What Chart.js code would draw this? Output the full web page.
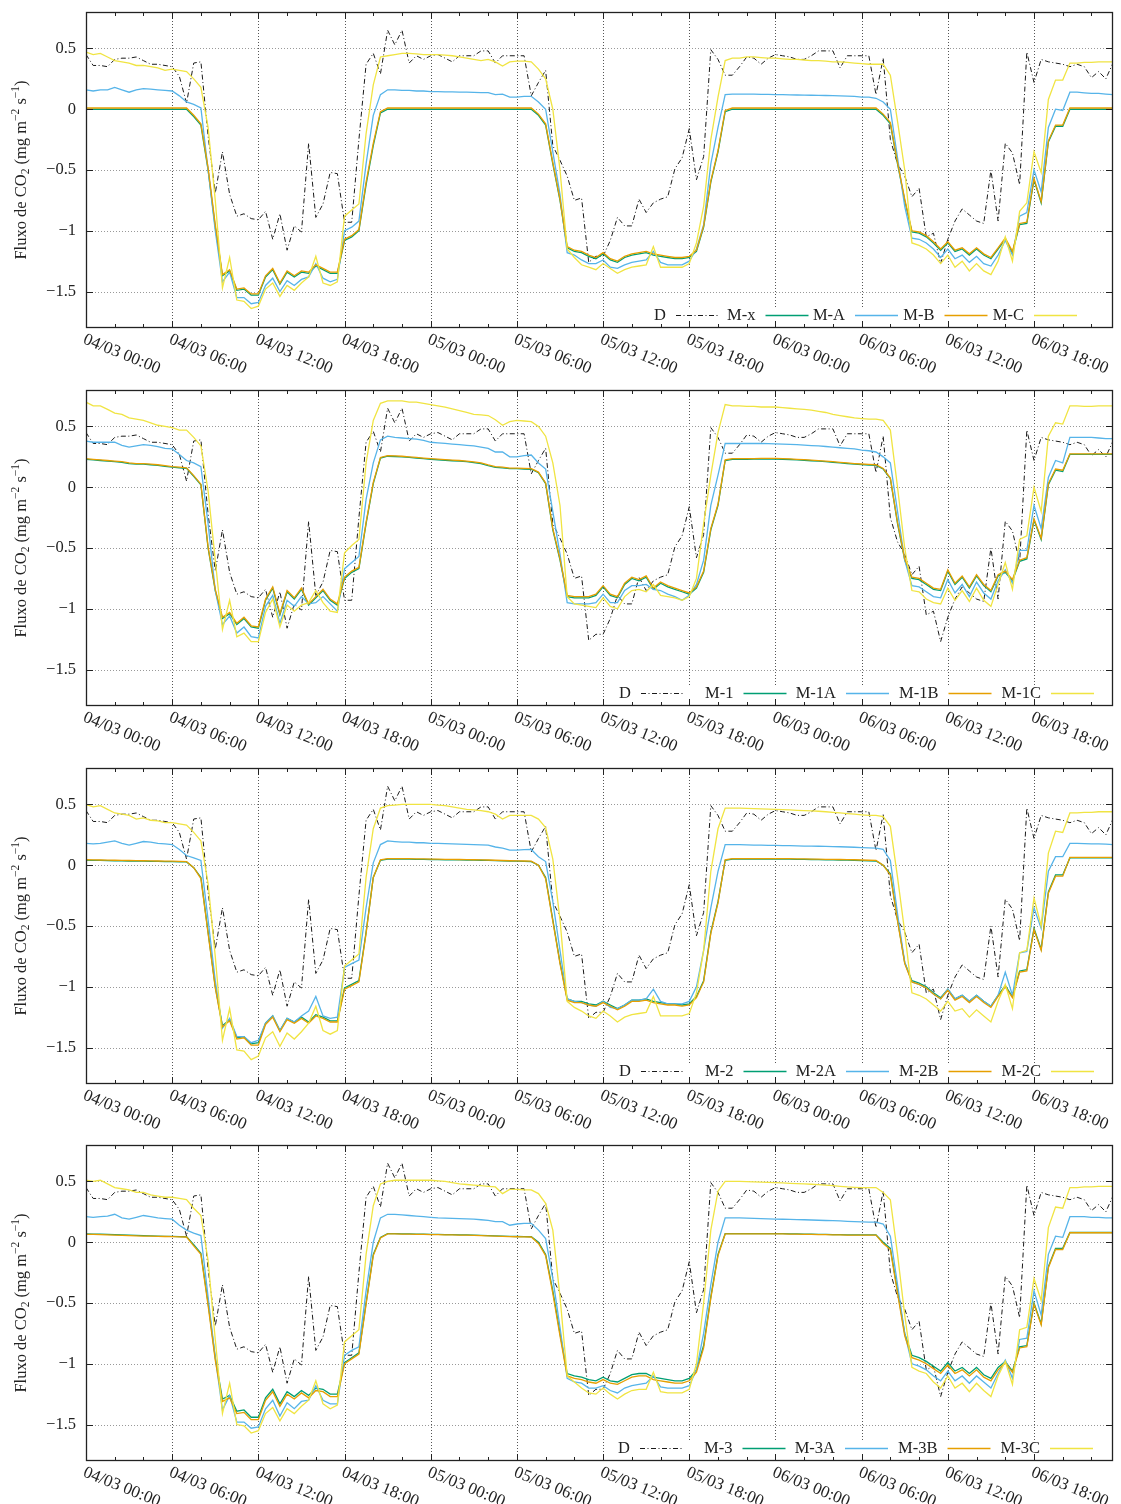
<!DOCTYPE html>
<html>
<head>
<meta charset="utf-8">
<script src="https://cdn.jsdelivr.net/npm/chart.js@4.4.1/dist/chart.umd.min.js"></script>
<style>
  html, body { margin: 0; padding: 0; background: #fff; overflow: hidden; }
  .panel { position: absolute; left: 0; width: 1121px; height: 378px; }
</style>
</head>
<body>
<div class="panel" style="top:0px"><canvas id="c0" width="1121" height="378"></canvas></div>
<div class="panel" style="top:378px"><canvas id="c1" width="1121" height="378"></canvas></div>
<div class="panel" style="top:756px"><canvas id="c2" width="1121" height="378"></canvas></div>
<div class="panel" style="top:1133px"><canvas id="c3" width="1121" height="378"></canvas></div>
<script>
// half-hourly samples, 04/03 00:00 .. 06/03 23:30 (hours since start)
const hours = Array.from({ length: 144 }, (_, i) => i / 2);

const xTickHours = [0, 6, 12, 18, 24, 30, 36, 42, 48, 54, 60, 66];
const xTickLabels = ['04/03 00:00', '04/03 06:00', '04/03 12:00', '04/03 18:00',
  '05/03 00:00', '05/03 06:00', '05/03 12:00', '05/03 18:00',
  '06/03 00:00', '06/03 06:00', '06/03 12:00', '06/03 18:00'];
const yTicks = [-1.5, -1, -0.5, 0, 0.5];
const yTickLabels = ['\u22121.5', '\u22121', '\u22120.5', '0', '0.5'];

// measured flux (D), same in every panel
const fluxD = [
  0.45, 0.36, 0.36, 0.35, 0.41, 0.42, 0.42, 0.43, 0.40, 0.37, 0.37, 0.36,
  0.35, 0.27, 0.05, 0.38, 0.39, -0.22, -0.69, -0.35, -0.70, -0.88, -0.86, -0.90,
  -0.91, -0.84, -1.07, -0.86, -1.16, -0.96, -1.01, -0.28, -0.89, -0.78, -0.52, -0.53,
  -0.93, -0.93, -0.25, 0.37, 0.46, 0.29, 0.65, 0.53, 0.65, 0.38, 0.44, 0.41,
  0.44, 0.45, 0.42, 0.39, 0.44, 0.44, 0.44, 0.48, 0.48, 0.38, 0.44, 0.44,
  0.44, 0.44, 0.11, 0.22, 0.32, -0.30, -0.42, -0.55, -0.75, -0.73, -1.26, -1.21,
  -1.21, -1.08, -0.89, -0.96, -0.96, -0.74, -0.85, -0.77, -0.74, -0.72, -0.49, -0.40,
  -0.16, -0.58, -0.39, 0.49, 0.41, 0.28, 0.28, 0.35, 0.43, 0.42, 0.37, 0.42,
  0.45, 0.44, 0.43, 0.41, 0.41, 0.44, 0.48, 0.48, 0.48, 0.34, 0.44, 0.44,
  0.44, 0.44, 0.12, 0.42, -0.25, -0.45, -0.55, -0.72, -0.65, -1.05, -1.02, -1.27,
  -1.07, -0.92, -0.82, -0.87, -0.92, -0.94, -0.50, -0.92, -0.28, -0.36, -0.62, 0.47,
  0.22, 0.41, 0.39, 0.38, 0.37, 0.35, 0.37, 0.35, 0.26, 0.31, 0.25, 0.38
];

// panel 1
const mX = [
  0, 0, 0, 0, 0, 0, 0, 0, 0, 0, 0, 0,
  0, 0, 0, -0.06, -0.13, -0.50, -0.97, -1.37, -1.33, -1.49, -1.48, -1.53,
  -1.53, -1.38, -1.32, -1.44, -1.34, -1.38, -1.34, -1.35, -1.29, -1.32, -1.35, -1.35,
  -1.08, -1.05, -1.00, -0.62, -0.30, -0.03, 0, 0, 0, 0, 0, 0,
  0, 0, 0, 0, 0, 0, 0, 0, 0, 0, 0, 0,
  0, 0, 0, -0.05, -0.13, -0.45, -0.75, -1.14, -1.17, -1.18, -1.21, -1.23,
  -1.19, -1.24, -1.26, -1.22, -1.20, -1.19, -1.18, -1.20, -1.21, -1.22, -1.23, -1.23,
  -1.22, -1.17, -0.97, -0.60, -0.35, -0.02, 0, 0, 0, 0, 0, 0,
  0, 0, 0, 0, 0, 0, 0, 0, 0, 0, 0, 0,
  0, 0, 0, -0.05, -0.12, -0.45, -0.75, -1.01, -1.02, -1.05, -1.10, -1.16,
  -1.10, -1.17, -1.15, -1.20, -1.15, -1.20, -1.23, -1.15, -1.07, -1.18, -0.95, -0.94,
  -0.58, -0.77, -0.27, -0.14, -0.14, 0, 0, 0, 0, 0, 0, 0
];
const mA = [
  0.16, 0.15, 0.16, 0.16, 0.18, 0.16, 0.14, 0.16, 0.17, 0.165, 0.16, 0.155,
  0.15, 0.11, 0.06, 0.04, 0.01, -0.50, -1.00, -1.42, -1.34, -1.55, -1.55, -1.60,
  -1.59, -1.45, -1.39, -1.50, -1.41, -1.45, -1.40, -1.38, -1.27, -1.39, -1.42, -1.40,
  -1.00, -0.97, -0.92, -0.45, -0.05, 0.12, 0.16, 0.16, 0.155, 0.155, 0.15, 0.15,
  0.145, 0.145, 0.143, 0.142, 0.14, 0.14, 0.138, 0.137, 0.136, 0.12, 0.125, 0.10,
  0.10, 0.105, 0.106, 0.06, 0.0, -0.35, -0.70, -1.18, -1.20, -1.24, -1.27, -1.27,
  -1.24, -1.30, -1.31, -1.28, -1.26, -1.25, -1.24, -1.17, -1.26, -1.28, -1.28, -1.28,
  -1.25, -1.15, -0.95, -0.45, -0.15, 0.12, 0.125, 0.125, 0.125, 0.124, 0.123, 0.122,
  0.12, 0.12, 0.118, 0.117, 0.116, 0.115, 0.114, 0.113, 0.112, 0.11, 0.108, 0.105,
  0.10, 0.10, 0.09, 0.06, 0.0, -0.40, -0.80, -1.06, -1.07, -1.10, -1.15, -1.22,
  -1.15, -1.23, -1.20, -1.26, -1.21, -1.27, -1.29, -1.20, -1.08, -1.20, -0.88, -0.85,
  -0.50, -0.68, -0.15, 0.0, -0.01, 0.14, 0.14, 0.135, 0.13, 0.13, 0.125, 0.12
];
const mB = [
  0.01, 0.01, 0.01, 0.01, 0.01, 0.01, 0.01, 0.01, 0.01, 0.01, 0.01, 0.01,
  0.01, 0.01, 0.01, -0.05, -0.12, -0.48, -0.95, -1.36, -1.32, -1.48, -1.47, -1.52,
  -1.52, -1.37, -1.31, -1.43, -1.33, -1.37, -1.33, -1.34, -1.28, -1.31, -1.34, -1.34,
  -1.07, -1.04, -0.99, -0.60, -0.28, -0.02, 0.01, 0.01, 0.01, 0.01, 0.01, 0.01,
  0.01, 0.01, 0.01, 0.01, 0.01, 0.01, 0.01, 0.01, 0.01, 0.01, 0.01, 0.01,
  0.01, 0.01, 0.01, -0.04, -0.12, -0.44, -0.74, -1.13, -1.16, -1.17, -1.20, -1.22,
  -1.18, -1.23, -1.25, -1.21, -1.19, -1.18, -1.17, -1.19, -1.20, -1.21, -1.22, -1.22,
  -1.21, -1.16, -0.96, -0.59, -0.34, -0.01, 0.01, 0.01, 0.01, 0.01, 0.01, 0.01,
  0.01, 0.01, 0.01, 0.01, 0.01, 0.01, 0.01, 0.01, 0.01, 0.01, 0.01, 0.01,
  0.01, 0.01, 0.01, -0.04, -0.11, -0.44, -0.74, -1.00, -1.01, -1.04, -1.09, -1.15,
  -1.09, -1.16, -1.14, -1.19, -1.14, -1.19, -1.22, -1.14, -1.06, -1.17, -0.94, -0.93,
  -0.57, -0.76, -0.26, -0.13, -0.13, 0.01, 0.01, 0.01, 0.01, 0.01, 0.01, 0.01
];
const mC = [
  0.47, 0.45, 0.46, 0.43, 0.40, 0.39, 0.38, 0.36, 0.36, 0.35, 0.34, 0.32,
  0.33, 0.32, 0.31, 0.25, 0.18, -0.15, -0.75, -1.47, -1.22, -1.57, -1.58, -1.64,
  -1.62, -1.48, -1.43, -1.54, -1.45, -1.49, -1.43, -1.38, -1.21, -1.43, -1.45, -1.42,
  -0.88, -0.83, -0.78, -0.20, 0.20, 0.43, 0.44, 0.45, 0.46, 0.46, 0.455, 0.45,
  0.45, 0.45, 0.445, 0.44, 0.43, 0.42, 0.41, 0.40, 0.41, 0.39, 0.355, 0.39,
  0.395, 0.395, 0.39, 0.33, 0.25, 0.0, -0.50, -1.15, -1.22, -1.28, -1.30, -1.32,
  -1.27, -1.31, -1.35, -1.32, -1.30, -1.29, -1.28, -1.13, -1.30, -1.30, -1.30, -1.30,
  -1.27, -1.10, -0.80, -0.25, 0.10, 0.40, 0.42, 0.42, 0.43, 0.43, 0.425, 0.42,
  0.42, 0.415, 0.41, 0.41, 0.405, 0.40, 0.40, 0.395, 0.39, 0.39, 0.385, 0.38,
  0.375, 0.37, 0.37, 0.37, 0.28, -0.10, -0.50, -1.10, -1.12, -1.15, -1.20, -1.27,
  -1.20, -1.30, -1.25, -1.33, -1.27, -1.33, -1.36, -1.25, -1.05, -1.25, -0.84, -0.77,
  -0.35, -0.52, 0.08, 0.24, 0.24, 0.38, 0.38, 0.385, 0.385, 0.39, 0.39, 0.39
];

// panel 2
const m1 = [
  0.23, 0.225, 0.22, 0.215, 0.21, 0.205, 0.195, 0.19, 0.19, 0.185, 0.18, 0.172,
  0.165, 0.16, 0.155, 0.09, 0.02, -0.50, -0.85, -1.08, -1.04, -1.13, -1.08, -1.15,
  -1.16, -0.93, -0.83, -1.05, -0.86, -0.92, -0.84, -0.97, -0.91, -0.85, -0.93, -0.97,
  -0.75, -0.70, -0.67, -0.30, 0.03, 0.24, 0.255, 0.253, 0.25, 0.245, 0.24, 0.235,
  0.23, 0.226, 0.222, 0.218, 0.215, 0.21, 0.203, 0.195, 0.178, 0.164, 0.16, 0.153,
  0.153, 0.15, 0.148, 0.12, 0.03, -0.35, -0.60, -0.90, -0.91, -0.91, -0.91, -0.89,
  -0.82, -0.89, -0.91, -0.80, -0.75, -0.77, -0.74, -0.84, -0.79, -0.82, -0.84, -0.86,
  -0.88, -0.83, -0.70, -0.35, -0.15, 0.22, 0.23, 0.23, 0.23, 0.231, 0.232, 0.232,
  0.232, 0.23, 0.228, 0.225, 0.222, 0.218, 0.214, 0.21, 0.205, 0.2, 0.195, 0.19,
  0.186, 0.183, 0.18, 0.15, 0.07, -0.30, -0.60, -0.75, -0.76, -0.80, -0.84, -0.85,
  -0.69, -0.80, -0.74, -0.83, -0.73, -0.81, -0.86, -0.73, -0.70, -0.77, -0.61, -0.59,
  -0.27, -0.43, 0.02, 0.14, 0.13, 0.27, 0.27, 0.27, 0.27, 0.27, 0.27, 0.27
];
const m1A = [
  0.38, 0.37, 0.37, 0.37, 0.37, 0.345, 0.33, 0.34, 0.35, 0.345, 0.335, 0.32,
  0.315, 0.27, 0.22, 0.20, 0.17, -0.30, -0.85, -1.13, -1.06, -1.20, -1.15, -1.23,
  -1.24, -0.98, -0.89, -1.12, -0.93, -0.98, -0.90, -0.96, -0.95, -0.90, -0.96, -1.02,
  -0.67, -0.62, -0.57, -0.10, 0.20, 0.39, 0.42, 0.41, 0.405, 0.40, 0.395, 0.385,
  0.37, 0.365, 0.36, 0.355, 0.35, 0.345, 0.34, 0.33, 0.32, 0.29, 0.29, 0.25,
  0.25, 0.26, 0.265, 0.20, 0.15, -0.20, -0.55, -0.95, -0.96, -0.96, -0.96, -0.95,
  -0.88, -0.95, -0.95, -0.85, -0.81, -0.81, -0.80, -0.84, -0.85, -0.88, -0.90, -0.93,
  -0.89, -0.80, -0.60, -0.15, 0.10, 0.36, 0.36, 0.36, 0.36, 0.36, 0.36, 0.358,
  0.357, 0.355, 0.353, 0.35, 0.347, 0.343, 0.34, 0.335, 0.33, 0.325, 0.32, 0.315,
  0.305, 0.30, 0.29, 0.25, 0.20, -0.20, -0.60, -0.81, -0.82, -0.86, -0.90, -0.91,
  -0.76, -0.87, -0.80, -0.90, -0.78, -0.87, -0.92, -0.77, -0.68, -0.79, -0.52, -0.52,
  -0.15, -0.34, 0.08, 0.22, 0.20, 0.41, 0.41, 0.41, 0.41, 0.405, 0.40, 0.40
];
const m1B = [
  0.235, 0.23, 0.225, 0.22, 0.215, 0.21, 0.2, 0.195, 0.195, 0.19, 0.185, 0.178,
  0.17, 0.165, 0.16, 0.095, 0.025, -0.49, -0.84, -1.07, -1.03, -1.12, -1.07, -1.14,
  -1.15, -0.92, -0.82, -1.04, -0.85, -0.91, -0.83, -0.96, -0.90, -0.84, -0.92, -0.96,
  -0.74, -0.69, -0.66, -0.29, 0.04, 0.245, 0.26, 0.258, 0.255, 0.25, 0.245, 0.24,
  0.235, 0.231, 0.227, 0.223, 0.22, 0.215, 0.208, 0.2, 0.183, 0.17, 0.165, 0.158,
  0.158, 0.155, 0.153, 0.125, 0.035, -0.34, -0.59, -0.89, -0.90, -0.90, -0.90, -0.88,
  -0.81, -0.88, -0.90, -0.79, -0.74, -0.76, -0.73, -0.83, -0.78, -0.81, -0.83, -0.85,
  -0.87, -0.82, -0.69, -0.34, -0.14, 0.225, 0.235, 0.235, 0.235, 0.236, 0.237, 0.237,
  0.237, 0.235, 0.233, 0.23, 0.227, 0.223, 0.219, 0.215, 0.21, 0.205, 0.2, 0.195,
  0.191, 0.188, 0.185, 0.155, 0.075, -0.29, -0.59, -0.74, -0.75, -0.79, -0.83, -0.84,
  -0.68, -0.79, -0.73, -0.82, -0.72, -0.80, -0.85, -0.72, -0.69, -0.76, -0.60, -0.58,
  -0.26, -0.42, 0.03, 0.15, 0.14, 0.275, 0.275, 0.275, 0.275, 0.275, 0.275, 0.275
];
const m1C = [
  0.70, 0.67, 0.67, 0.64, 0.61, 0.60, 0.57, 0.56, 0.55, 0.53, 0.51, 0.50,
  0.49, 0.47, 0.47, 0.41, 0.34, -0.03, -0.60, -1.17, -0.93, -1.23, -1.20, -1.27,
  -1.27, -1.03, -0.92, -1.15, -0.97, -1.02, -0.97, -0.95, -0.85, -0.95, -1.02, -1.03,
  -0.54, -0.48, -0.43, 0.20, 0.55, 0.69, 0.71, 0.71, 0.71, 0.70, 0.70, 0.69,
  0.68, 0.67, 0.66, 0.645, 0.63, 0.615, 0.60, 0.595, 0.59, 0.555, 0.51, 0.54,
  0.55, 0.545, 0.54, 0.50, 0.42, 0.20, -0.15, -0.90, -0.96, -0.97, -0.98, -0.99,
  -0.91, -0.98, -1.00, -0.90, -0.85, -0.84, -0.86, -0.80, -0.89, -0.90, -0.91, -0.93,
  -0.90, -0.75, -0.30, 0.10, 0.45, 0.68, 0.67, 0.67, 0.665, 0.665, 0.66, 0.66,
  0.66, 0.655, 0.65, 0.645, 0.64, 0.635, 0.625, 0.615, 0.60, 0.59, 0.58, 0.57,
  0.565, 0.56, 0.56, 0.55, 0.47, 0.0, -0.50, -0.85, -0.86, -0.92, -0.95, -0.96,
  -0.83, -0.93, -0.85, -0.94, -0.83, -0.93, -0.98, -0.80, -0.62, -0.84, -0.43, -0.40,
  0.0, -0.20, 0.42, 0.53, 0.52, 0.67, 0.67, 0.665, 0.665, 0.67, 0.67, 0.67
];

// panel 3
const m2 = [
  0.04, 0.04, 0.04, 0.038, 0.037, 0.036, 0.035, 0.034, 0.033, 0.032, 0.031, 0.03,
  0.03, 0.028, 0.027, -0.02, -0.10, -0.55, -1.00, -1.32, -1.27, -1.42, -1.41, -1.47,
  -1.46, -1.30, -1.24, -1.36, -1.26, -1.29, -1.25, -1.29, -1.23, -1.25, -1.28, -1.28,
  -1.01, -0.98, -0.95, -0.55, -0.10, 0.04, 0.05, 0.05, 0.05, 0.05, 0.048, 0.048,
  0.047, 0.046, 0.045, 0.045, 0.044, 0.043, 0.042, 0.041, 0.04, 0.038, 0.036, 0.034,
  0.033, 0.032, 0.03, 0.0, -0.10, -0.45, -0.80, -1.10, -1.12, -1.12, -1.14, -1.15,
  -1.12, -1.15, -1.18, -1.15, -1.11, -1.11, -1.10, -1.12, -1.13, -1.14, -1.14, -1.15,
  -1.14, -1.08, -0.95, -0.55, -0.30, 0.04, 0.05, 0.05, 0.05, 0.05, 0.05, 0.05,
  0.05, 0.05, 0.05, 0.049, 0.048, 0.047, 0.046, 0.045, 0.044, 0.043, 0.042, 0.04,
  0.038, 0.036, 0.035, 0.0, -0.07, -0.45, -0.80, -0.95, -0.97, -1.00, -1.05, -1.09,
  -1.02, -1.10, -1.07, -1.12, -1.07, -1.12, -1.16, -1.07, -0.99, -1.08, -0.87, -0.86,
  -0.52, -0.69, -0.22, -0.08, -0.08, 0.06, 0.06, 0.06, 0.06, 0.06, 0.06, 0.06
];
const m2A = [
  0.18, 0.175, 0.18, 0.19, 0.20, 0.18, 0.165, 0.18, 0.195, 0.19, 0.18, 0.175,
  0.17, 0.13, 0.08, 0.06, 0.04, -0.45, -0.95, -1.34, -1.26, -1.41, -1.41, -1.46,
  -1.44, -1.30, -1.24, -1.36, -1.26, -1.29, -1.24, -1.20, -1.08, -1.24, -1.26, -1.25,
  -0.84, -0.81, -0.78, -0.35, 0.02, 0.17, 0.20, 0.195, 0.19, 0.19, 0.185, 0.185,
  0.18, 0.18, 0.178, 0.176, 0.174, 0.172, 0.17, 0.168, 0.165, 0.15, 0.14, 0.125,
  0.125, 0.128, 0.13, 0.07, 0.03, -0.30, -0.70, -1.10, -1.12, -1.13, -1.15, -1.16,
  -1.12, -1.17, -1.18, -1.15, -1.11, -1.11, -1.10, -1.02, -1.12, -1.14, -1.14, -1.14,
  -1.12, -1.00, -0.70, -0.35, -0.05, 0.17, 0.17, 0.17, 0.168, 0.166, 0.165, 0.164,
  0.163, 0.162, 0.161, 0.16, 0.158, 0.157, 0.156, 0.155, 0.153, 0.152, 0.15, 0.148,
  0.145, 0.142, 0.14, 0.13, 0.04, -0.40, -0.80, -0.96, -0.98, -1.01, -1.06, -1.10,
  -1.02, -1.10, -1.07, -1.12, -1.07, -1.12, -1.16, -1.07, -0.88, -1.07, -0.72, -0.71,
  -0.35, -0.52, -0.05, 0.07, 0.07, 0.18, 0.18, 0.178, 0.176, 0.175, 0.173, 0.17
];
const m2B = [
  0.045, 0.044, 0.043, 0.042, 0.041, 0.04, 0.039, 0.038, 0.037, 0.036, 0.035, 0.034,
  0.033, 0.032, 0.03, -0.02, -0.11, -0.56, -1.01, -1.33, -1.28, -1.43, -1.42, -1.48,
  -1.48, -1.31, -1.25, -1.37, -1.27, -1.30, -1.26, -1.30, -1.24, -1.26, -1.29, -1.29,
  -1.02, -0.99, -0.96, -0.56, -0.10, 0.045, 0.055, 0.055, 0.055, 0.054, 0.053, 0.052,
  0.051, 0.05, 0.049, 0.048, 0.047, 0.046, 0.045, 0.044, 0.043, 0.041, 0.039, 0.037,
  0.036, 0.035, 0.034, 0.0, -0.11, -0.46, -0.81, -1.11, -1.13, -1.13, -1.15, -1.16,
  -1.13, -1.16, -1.19, -1.16, -1.12, -1.12, -1.11, -1.13, -1.14, -1.15, -1.15, -1.16,
  -1.15, -1.09, -0.96, -0.56, -0.31, 0.045, 0.055, 0.055, 0.055, 0.055, 0.055, 0.055,
  0.055, 0.055, 0.054, 0.053, 0.052, 0.051, 0.05, 0.049, 0.048, 0.047, 0.046, 0.045,
  0.043, 0.041, 0.04, 0.0, -0.08, -0.46, -0.81, -0.96, -0.98, -1.01, -1.06, -1.10,
  -1.03, -1.11, -1.08, -1.13, -1.08, -1.13, -1.17, -1.08, -1.00, -1.09, -0.88, -0.87,
  -0.53, -0.70, -0.23, -0.09, -0.09, 0.065, 0.065, 0.065, 0.065, 0.065, 0.065, 0.065
];
const m2C = [
  0.50, 0.48, 0.49, 0.46, 0.43, 0.42, 0.41, 0.38, 0.39, 0.37, 0.365, 0.35,
  0.35, 0.34, 0.33, 0.27, 0.20, -0.15, -0.75, -1.44, -1.18, -1.52, -1.53, -1.60,
  -1.57, -1.42, -1.37, -1.49, -1.38, -1.43, -1.37, -1.30, -1.16, -1.36, -1.39, -1.36,
  -0.83, -0.78, -0.73, -0.10, 0.30, 0.47, 0.49, 0.495, 0.50, 0.50, 0.50, 0.50,
  0.50, 0.495, 0.49, 0.48, 0.47, 0.46, 0.455, 0.45, 0.44, 0.42, 0.38, 0.41,
  0.41, 0.41, 0.41, 0.38, 0.31, 0.05, -0.45, -1.12, -1.17, -1.20, -1.24, -1.26,
  -1.20, -1.24, -1.29, -1.25, -1.23, -1.22, -1.21, -1.08, -1.24, -1.24, -1.24, -1.24,
  -1.22, -1.05, -0.70, -0.05, 0.30, 0.47, 0.47, 0.47, 0.468, 0.466, 0.464, 0.462,
  0.46, 0.458, 0.455, 0.452, 0.45, 0.447, 0.444, 0.44, 0.435, 0.43, 0.425, 0.42,
  0.415, 0.41, 0.41, 0.40, 0.32, -0.10, -0.55, -1.05, -1.07, -1.10, -1.15, -1.20,
  -1.12, -1.20, -1.18, -1.25, -1.19, -1.24, -1.29, -1.12, -0.98, -1.18, -0.72, -0.70,
  -0.27, -0.50, 0.10, 0.28, 0.27, 0.43, 0.43, 0.435, 0.435, 0.44, 0.44, 0.44
];

// panel 4
const m3 = [
  0.068, 0.067, 0.066, 0.064, 0.062, 0.06, 0.058, 0.056, 0.054, 0.052, 0.05, 0.049,
  0.048, 0.046, 0.045, -0.02, -0.09, -0.50, -0.95, -1.29, -1.26, -1.39, -1.38, -1.44,
  -1.44, -1.28, -1.21, -1.33, -1.23, -1.27, -1.22, -1.26, -1.20, -1.21, -1.25, -1.25,
  -0.99, -0.95, -0.91, -0.50, -0.10, 0.04, 0.07, 0.07, 0.069, 0.068, 0.067, 0.066,
  0.065, 0.064, 0.063, 0.062, 0.061, 0.06, 0.058, 0.056, 0.054, 0.052, 0.05, 0.048,
  0.047, 0.046, 0.045, 0.0, -0.10, -0.40, -0.75, -1.08, -1.10, -1.11, -1.13, -1.14,
  -1.11, -1.14, -1.15, -1.12, -1.09, -1.08, -1.08, -1.11, -1.12, -1.13, -1.14, -1.14,
  -1.12, -1.05, -0.85, -0.45, -0.10, 0.07, 0.07, 0.07, 0.07, 0.07, 0.07, 0.07,
  0.07, 0.07, 0.069, 0.068, 0.067, 0.066, 0.065, 0.064, 0.063, 0.062, 0.061, 0.06,
  0.06, 0.06, 0.06, 0.0, -0.05, -0.40, -0.75, -0.93, -0.95, -0.98, -1.02, -1.06,
  -0.99, -1.06, -1.03, -1.08, -1.03, -1.09, -1.12, -1.03, -0.98, -1.06, -0.86, -0.85,
  -0.50, -0.67, -0.20, -0.05, -0.05, 0.08, 0.08, 0.08, 0.08, 0.08, 0.08, 0.08
];
const m3A = [
  0.21, 0.205, 0.21, 0.215, 0.23, 0.20, 0.19, 0.205, 0.22, 0.21, 0.20, 0.195,
  0.19, 0.14, 0.10, 0.075, 0.055, -0.45, -0.95, -1.38, -1.26, -1.48, -1.48, -1.53,
  -1.52, -1.37, -1.30, -1.43, -1.32, -1.37, -1.31, -1.30, -1.18, -1.30, -1.33, -1.33,
  -0.93, -0.89, -0.86, -0.40, 0.0, 0.20, 0.23, 0.23, 0.225, 0.22, 0.215, 0.21,
  0.205, 0.20, 0.198, 0.196, 0.194, 0.192, 0.19, 0.185, 0.18, 0.17, 0.17, 0.14,
  0.15, 0.155, 0.155, 0.10, 0.03, -0.30, -0.70, -1.12, -1.15, -1.16, -1.20, -1.20,
  -1.18, -1.22, -1.24, -1.20, -1.18, -1.17, -1.16, -1.10, -1.19, -1.20, -1.20, -1.20,
  -1.18, -1.05, -0.75, -0.35, 0.0, 0.20, 0.20, 0.20, 0.198, 0.196, 0.194, 0.192,
  0.19, 0.189, 0.188, 0.186, 0.185, 0.183, 0.181, 0.179, 0.177, 0.175, 0.172, 0.17,
  0.168, 0.166, 0.165, 0.15, 0.05, -0.35, -0.75, -1.00, -1.02, -1.05, -1.10, -1.14,
  -1.06, -1.14, -1.10, -1.16, -1.10, -1.15, -1.20, -1.08, -0.97, -1.12, -0.80, -0.79,
  -0.40, -0.60, -0.10, 0.05, 0.04, 0.21, 0.21, 0.21, 0.205, 0.205, 0.20, 0.20
];
const m3B = [
  0.065, 0.064, 0.063, 0.061, 0.059, 0.057, 0.055, 0.053, 0.051, 0.05, 0.048, 0.047,
  0.046, 0.044, 0.043, -0.03, -0.10, -0.52, -0.97, -1.31, -1.28, -1.41, -1.40, -1.46,
  -1.46, -1.30, -1.23, -1.35, -1.25, -1.29, -1.24, -1.28, -1.22, -1.23, -1.27, -1.27,
  -1.00, -0.96, -0.92, -0.51, -0.11, 0.035, 0.068, 0.068, 0.067, 0.066, 0.065, 0.064,
  0.063, 0.062, 0.061, 0.06, 0.059, 0.058, 0.056, 0.054, 0.052, 0.05, 0.048, 0.046,
  0.045, 0.044, 0.043, -0.01, -0.11, -0.42, -0.77, -1.10, -1.12, -1.13, -1.15, -1.16,
  -1.13, -1.16, -1.17, -1.14, -1.11, -1.10, -1.10, -1.13, -1.14, -1.15, -1.16, -1.16,
  -1.14, -1.07, -0.87, -0.46, -0.11, 0.068, 0.068, 0.068, 0.068, 0.068, 0.068, 0.068,
  0.068, 0.068, 0.067, 0.066, 0.065, 0.064, 0.063, 0.062, 0.061, 0.06, 0.059, 0.058,
  0.058, 0.058, 0.058, -0.01, -0.06, -0.42, -0.77, -0.95, -0.97, -1.00, -1.04, -1.08,
  -1.01, -1.08, -1.05, -1.10, -1.05, -1.11, -1.14, -1.05, -0.99, -1.07, -0.87, -0.86,
  -0.51, -0.68, -0.21, -0.06, -0.06, 0.078, 0.078, 0.078, 0.078, 0.078, 0.078, 0.078
];
const m3C = [
  0.51, 0.50, 0.51, 0.48, 0.45, 0.44, 0.43, 0.41, 0.41, 0.39, 0.38, 0.37,
  0.37, 0.36, 0.35, 0.28, 0.22, -0.15, -0.80, -1.41, -1.16, -1.50, -1.51, -1.57,
  -1.55, -1.41, -1.36, -1.47, -1.37, -1.41, -1.35, -1.30, -1.14, -1.33, -1.37, -1.34,
  -0.82, -0.77, -0.72, -0.10, 0.30, 0.48, 0.50, 0.51, 0.51, 0.51, 0.51, 0.51,
  0.51, 0.505, 0.50, 0.49, 0.48, 0.475, 0.47, 0.465, 0.46, 0.455, 0.40, 0.435,
  0.435, 0.43, 0.43, 0.40, 0.32, 0.10, -0.45, -1.10, -1.15, -1.20, -1.24, -1.25,
  -1.20, -1.25, -1.29, -1.25, -1.22, -1.21, -1.21, -1.07, -1.23, -1.24, -1.24, -1.24,
  -1.21, -1.00, -0.50, 0.10, 0.42, 0.50, 0.50, 0.50, 0.498, 0.496, 0.494, 0.492,
  0.49, 0.488, 0.485, 0.482, 0.48, 0.477, 0.474, 0.47, 0.465, 0.46, 0.455, 0.452,
  0.45, 0.45, 0.45, 0.41, 0.35, -0.10, -0.60, -1.03, -1.06, -1.08, -1.15, -1.20,
  -1.10, -1.20, -1.16, -1.23, -1.16, -1.22, -1.27, -1.10, -0.98, -1.17, -0.72, -0.70,
  -0.30, -0.48, 0.12, 0.29, 0.28, 0.45, 0.45, 0.455, 0.455, 0.46, 0.46, 0.46
];

const SERIF = '"Liberation Serif", "DejaVu Serif", serif';
const lineColors = ['#1a1a1a', '#009e73', '#56b4e9', '#e69f00', '#f0e442'];
const dashDot = [5, 2.5, 1, 2.5];

const panels = [
  { id: 'c0', names: ['D', 'M-x', 'M-A', 'M-B', 'M-C'], series: [fluxD, mX, mA, mB, mC], pitch: 89.5, end: 1077 },
  { id: 'c1', names: ['D', 'M-1', 'M-1A', 'M-1B', 'M-1C'], series: [fluxD, m1, m1A, m1B, m1C], pitch: 102.5, end: 1094 },
  { id: 'c2', names: ['D', 'M-2', 'M-2A', 'M-2B', 'M-2C'], series: [fluxD, m2, m2A, m2B, m2C], pitch: 102.5, end: 1094 },
  { id: 'c3', names: ['D', 'M-3', 'M-3A', 'M-3B', 'M-3C'], series: [fluxD, m3, m3A, m3B, m3C], pitch: 102.5, end: 1093 }
];

function hline(ctx, x1, y1, x2, y2) {
  ctx.beginPath();
  ctx.moveTo(x1, y1);
  ctx.lineTo(x2, y2);
  ctx.stroke();
}

// title with sub/superscripts, drawn rotated
function drawTitle(ctx, cx, cy) {
  const parts = [
    { t: 'Fluxo de CO', s: 16.5, dy: 0 },
    { t: '2', s: 11.5, dy: 4 },
    { t: ' (mg m', s: 16.5, dy: 0 },
    { t: '\u22122', s: 11.5, dy: -6 },
    { t: ' s', s: 16.5, dy: 0 },
    { t: '\u22121', s: 11.5, dy: -6 },
    { t: ')', s: 16.5, dy: 0 }
  ];
  ctx.save();
  ctx.translate(cx, cy);
  ctx.rotate(-Math.PI / 2);
  ctx.fillStyle = '#222';
  ctx.textBaseline = 'middle';
  ctx.textAlign = 'left';
  let total = 0;
  parts.forEach(p => { ctx.font = p.s + 'px ' + SERIF; p.w = ctx.measureText(p.t).width; total += p.w; });
  let x = -total / 2;
  parts.forEach(p => {
    ctx.font = p.s + 'px ' + SERIF;
    ctx.fillText(p.t, x, p.dy);
    x += p.w;
  });
  ctx.restore();
}

const decor = {
  id: 'decor',
  beforeDatasetsDraw(chart) {
    const { ctx, chartArea: a, scales: { x, y } } = chart;
    ctx.save();
    ctx.lineWidth = 1;
    ctx.setLineDash([1, 2]);
    ctx.strokeStyle = '#555';
    xTickHours.forEach(h => {
      if (h === 0) return;
      const px = Math.round(x.getPixelForValue(h)) + 0.5;
      hline(ctx, px, a.top, px, a.bottom);
    });
    ctx.strokeStyle = '#999';
    yTicks.forEach(v => {
      const py = Math.round(y.getPixelForValue(v)) + 0.5;
      hline(ctx, a.left, py, a.right, py);
    });
    ctx.restore();
  },
  afterDatasetsDraw(chart, args, opts) {
    const { ctx, chartArea: a, scales: { x, y } } = chart;
    ctx.save();

    // key
    const ly = a.bottom - 13;
    ctx.font = '16.5px ' + SERIF;
    const firstEnd = opts.end - 4 * opts.pitch - 43 - 10;
    const firstW = ctx.measureText(opts.names[0]).width;
    ctx.fillStyle = '#fff';
    ctx.fillRect(firstEnd - firstW - 9, a.bottom - 21, a.right - (firstEnd - firstW - 9), 21);
    opts.names.forEach((name, i) => {
      const sEnd = opts.end - (4 - i) * opts.pitch;
      const sStart = sEnd - 43;
      ctx.fillStyle = '#222';
      ctx.textAlign = 'right';
      ctx.textBaseline = 'middle';
      ctx.fillText(name, sStart - 10, ly + 1);
      ctx.strokeStyle = lineColors[i];
      ctx.lineWidth = i === 0 ? 1 : 1.4;
      ctx.setLineDash(i === 0 ? dashDot : []);
      hline(ctx, sStart, ly + 0.5, sEnd, ly + 0.5);
    });
    ctx.setLineDash([]);

    // frame
    ctx.strokeStyle = '#222';
    ctx.lineWidth = 1.3;
    ctx.strokeRect(a.left + 0.5, a.top + 0.5, a.right - a.left - 1, a.bottom - a.top - 1);

    // ticks
    ctx.lineWidth = 1;
    for (let h = 0; h <= 71; h += 2) {
      const px = Math.round(x.getPixelForValue(h)) + 0.5;
      const len = h % 6 === 0 ? 7 : 4;
      hline(ctx, px, a.bottom, px, a.bottom - len);
      hline(ctx, px, a.top, px, a.top + len);
    }
    yTicks.forEach(v => {
      const py = Math.round(y.getPixelForValue(v)) + 0.5;
      hline(ctx, a.left, py, a.left + 7, py);
      hline(ctx, a.right, py, a.right - 7, py);
    });

    // y tick labels
    ctx.fillStyle = '#222';
    ctx.font = '16.5px ' + SERIF;
    ctx.textAlign = 'right';
    ctx.textBaseline = 'middle';
    yTicks.forEach((v, i) => ctx.fillText(yTickLabels[i], a.left - 10, y.getPixelForValue(v)));

    // x tick labels, rotated clockwise
    ctx.textAlign = 'left';
    ctx.textBaseline = 'top';
    ctx.font = '17px ' + SERIF;
    xTickHours.forEach((h, i) => {
      ctx.save();
      ctx.translate(x.getPixelForValue(h) + 1, a.bottom + 3);
      ctx.rotate(22 * Math.PI / 180);
      ctx.fillText(xTickLabels[i], 0, 0);
      ctx.restore();
    });

    drawTitle(ctx, 22, (a.top + a.bottom) / 2);
    ctx.restore();
  }
};

panels.forEach(p => {
  const datasets = p.series.map((vals, i) => ({
    label: p.names[i],
    data: vals.map((v, k) => ({ x: hours[k], y: v })),
    borderColor: lineColors[i],
    borderWidth: i === 0 ? 1 : 1.3,
    borderDash: i === 0 ? dashDot : [],
    pointRadius: 0,
    tension: 0,
    fill: false,
    order: 5 - i
  }));
  new Chart(document.getElementById(p.id), {
    type: 'line',
    data: { datasets },
    options: {
      responsive: false,
      animation: false,
      events: [],
      layout: { padding: { left: 86, right: 8, top: 12, bottom: 50 } },
      scales: {
        x: { type: 'linear', min: 0, max: 71.5, display: false },
        y: { type: 'linear', min: -1.8, max: 0.8, display: false }
      },
      plugins: {
        legend: { display: false },
        tooltip: { enabled: false },
        decor: { names: p.names, pitch: p.pitch, end: p.end }
      }
    },
    plugins: [decor]
  });
});
</script>
</body>
</html>
